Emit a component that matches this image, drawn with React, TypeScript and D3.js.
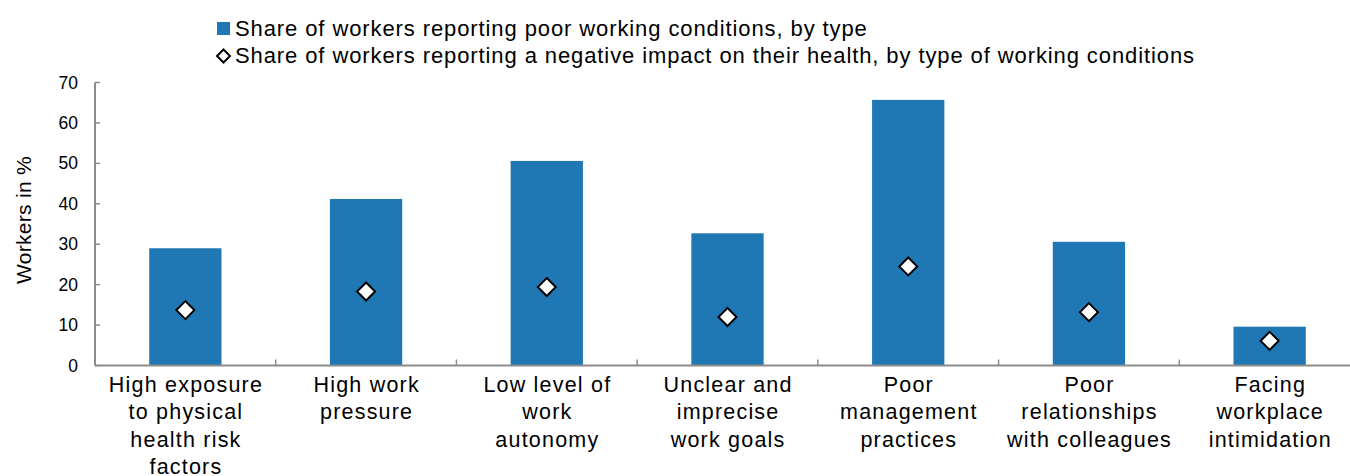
import React from "react";
import * as d3 from "d3";

const categories: string[][] = [
  ["High exposure", "to physical", "health risk", "factors"],
  ["High work", "pressure"],
  ["Low level of", "work", "autonomy"],
  ["Unclear and", "imprecise", "work goals"],
  ["Poor", "management", "practices"],
  ["Poor", "relationships", "with colleagues"],
  ["Facing", "workplace", "intimidation"],
];
const poorConditions = [29.0, 41.2, 50.6, 32.7, 65.7, 30.6, 9.6];
const healthImpact = [13.7, 18.3, 19.4, 12.0, 24.5, 13.2, 6.1];
const yTicks = [0, 10, 20, 30, 40, 50, 60, 70];
const legendLabels = [
  "Share of workers reporting poor working conditions, by type",
  "Share of workers reporting a negative impact on their health, by type of working conditions",
];

export default function App() {
  const W = 1350, H = 476;
  const left = 95, right = 1360, top = 82.5, bottom = 365.5;
  const x = d3.scaleBand<number>().domain(d3.range(categories.length)).range([left, right]).paddingInner(0.6).paddingOuter(0.3);
  const xOuter = d3.scaleBand<number>().domain(d3.range(categories.length)).range([left, right]);
  const y = d3.scaleLinear().domain([0, 70]).range([bottom, top]);
  const font = "Arial, 'Liberation Sans', sans-serif";
  const axisColor = "#8c8c8c";
  const dsz = 9;
  const diamond = (cx: number, cy: number) => `M${cx},${cy - dsz} L${cx + dsz},${cy} L${cx},${cy + dsz} L${cx - dsz},${cy} Z`;
  return (
    <svg width={W} height={H} style={{ position: "absolute", left: 0, top: 0, fontFamily: font }}>
      <rect width={W} height={H} fill="white" />
      {/* legend */}
      <rect x={217} y={22} width={13} height={13} fill="#1f77b4" />
      <text x={235} y={36} fontSize={22} letterSpacing={0.9} fill="#000">{legendLabels[0]}</text>
      <path d={`M223.5,49.5 L230,56 L223.5,62.5 L217,56 Z`} fill="white" stroke="#000" strokeWidth={2} />
      <text x={235} y={63} fontSize={22} letterSpacing={0.9} fill="#000">{legendLabels[1]}</text>
      {/* y axis */}
      <line x1={left} x2={left} y1={top} y2={bottom} stroke={axisColor} strokeWidth={2} />
      {yTicks.map((t) => (
        <g key={t}>
          <line x1={left} x2={left + 5} y1={y(t)} y2={y(t)} stroke={axisColor} strokeWidth={1.5} />
          <text x={78} y={y(t)} dy="0.35em" textAnchor="end" fontSize={17.5} fill="#000">{t}</text>
        </g>
      ))}
      <text transform={`translate(31,220) rotate(-90)`} textAnchor="middle" fontSize={21} letterSpacing={0.3} fill="#000">Workers in %</text>
      {/* bars */}
      {poorConditions.map((v, i) => (
        <rect key={i} x={x(i)!} y={y(v)} width={x.bandwidth()} height={bottom - y(v)} fill="#1f77b4" />
      ))}
      {/* x axis */}
      <line x1={left} x2={right} y1={bottom} y2={bottom} stroke={axisColor} strokeWidth={2} />
      {d3.range(1, categories.length).map((i) => (
        <line key={i} x1={xOuter(i)!} x2={xOuter(i)!} y1={bottom} y2={bottom - 6} stroke={axisColor} strokeWidth={1.5} />
      ))}
      {/* diamonds */}
      {healthImpact.map((v, i) => (
        <path key={i} d={diamond(x(i)! + x.bandwidth() / 2, y(v))} fill="white" stroke="#000" strokeWidth={2} />
      ))}
      {/* category labels */}
      {categories.map((lines, i) => (
        <text key={i} textAnchor="middle" fontSize={21.5} letterSpacing={1.2} fill="#000">
          {lines.map((l, j) => (
            <tspan key={j} x={x(i)! + x.bandwidth() / 2 + 0.6} y={392 + j * 27.4}>{l}</tspan>
          ))}
        </text>
      ))}
    </svg>
  );
}
